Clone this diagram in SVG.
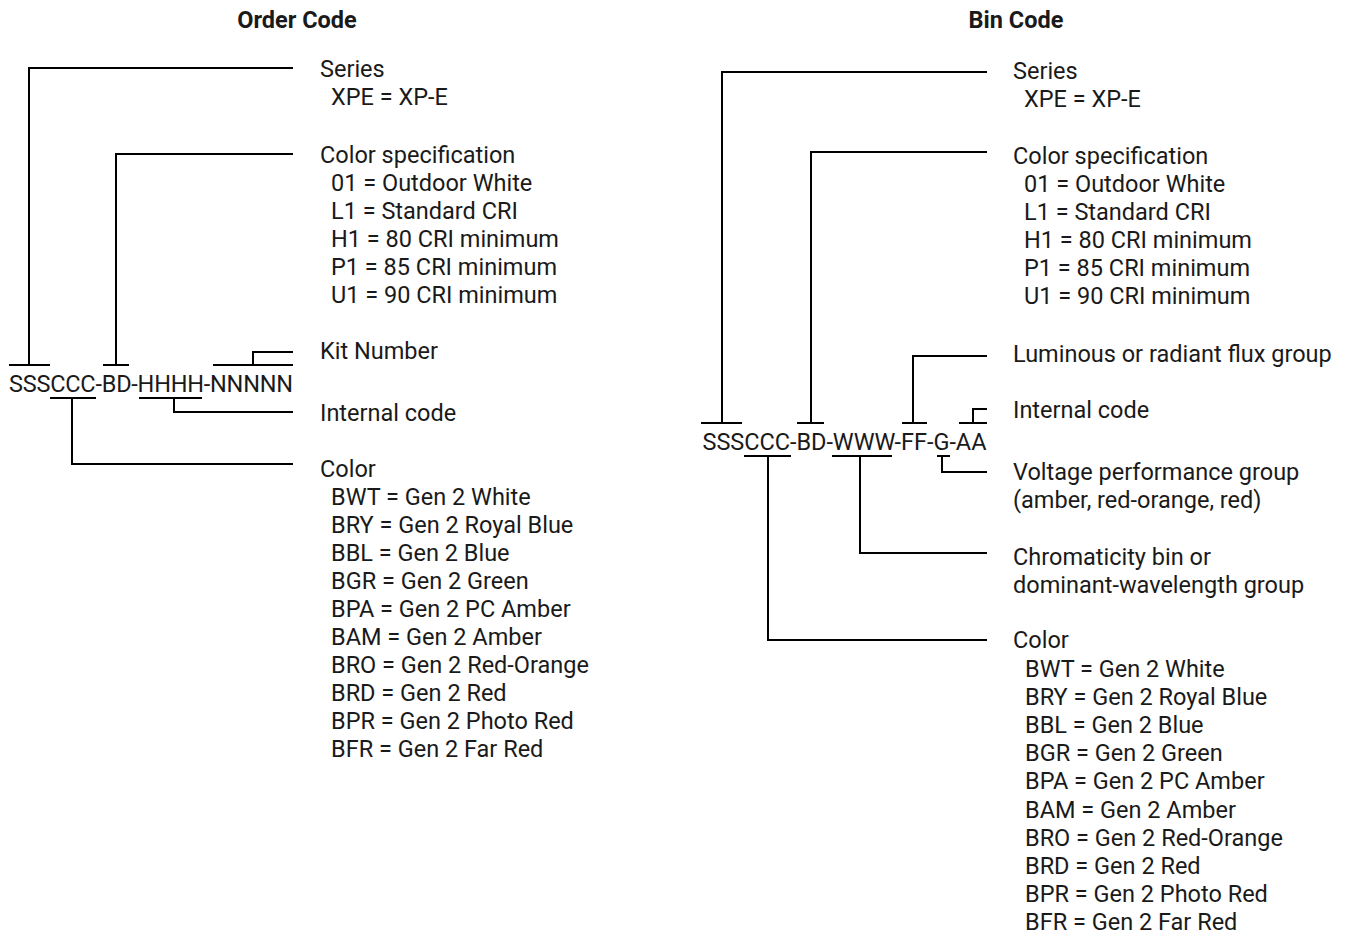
<svg xmlns="http://www.w3.org/2000/svg" width="1347" height="934" viewBox="0 0 1347 934">
<style>
text{font-family:Roboto,"Liberation Sans",Arial,sans-serif;font-size:23.5px;fill:#1a1a1a}
.title{font-weight:bold;font-size:23.5px;text-anchor:middle}
.ln{fill:none;stroke:#000;stroke-width:2}
</style>
<rect width="1347" height="934" fill="#fff"/>
<g id="titles">
<text class="title" x="297" y="28">Order Code</text>
<text class="title" x="1016" y="28">Bin Code</text>
</g>
<g id="order-code"><text x="9" y="391.7" textLength="284" lengthAdjust="spacing">SSSCCC-BD-HHHH-NNNNN</text></g>
<g id="bin-code"><text x="702.5" y="450" textLength="284" lengthAdjust="spacing">SSSCCC-BD-WWW-FF-G-AA</text></g>
<g id="connectors" class="ln">
<path class="ln" d="M9,365H50M29,365V68H293"/>
<path class="ln" d="M103,365H129M116,365V154H293"/>
<path class="ln" d="M213,365H293M253,365V352H293"/>
<path class="ln" d="M50,398H96M72,398V464H293"/>
<path class="ln" d="M139,398H202M174,398V412H293"/>
<path class="ln" d="M701,423H742M722,423V72H987"/>
<path class="ln" d="M797,423H824M811,423V152H987"/>
<path class="ln" d="M902,423H927M913,423V356H987"/>
<path class="ln" d="M959,423H987M973,423V409H987"/>
<path class="ln" d="M744,456H791M768,456V640H987"/>
<path class="ln" d="M832,456H892M860,456V553H987"/>
<path class="ln" d="M937,456H950M942,456V472H987"/>
</g>
<g id="order-series"><text x="320" y="77.3">Series</text><text x="331" y="105.3">XPE = XP-E</text></g>
<g id="order-colorspec">
<text x="320" y="162.5">Color specification</text>
<text x="331" y="190.5">01 = Outdoor White</text>
<text x="331" y="218.5">L1 = Standard CRI</text>
<text x="331" y="246.5">H1 = 80 CRI minimum</text>
<text x="331" y="274.5">P1 = 85 CRI minimum</text>
<text x="331" y="302.5">U1 = 90 CRI minimum</text>
</g>
<g id="order-kit"><text x="320" y="359.3">Kit Number</text></g>
<g id="order-internal"><text x="320" y="421">Internal code</text></g>
<g id="order-color">
<text x="320" y="476.7">Color</text>
<text x="331" y="505">BWT = Gen 2 White</text>
<text x="331" y="533">BRY = Gen 2 Royal Blue</text>
<text x="331" y="561">BBL = Gen 2 Blue</text>
<text x="331" y="589">BGR = Gen 2 Green</text>
<text x="331" y="617">BPA = Gen 2 PC Amber</text>
<text x="331" y="645">BAM = Gen 2 Amber</text>
<text x="331" y="673">BRO = Gen 2 Red-Orange</text>
<text x="331" y="701">BRD = Gen 2 Red</text>
<text x="331" y="729">BPR = Gen 2 Photo Red</text>
<text x="331" y="757">BFR = Gen 2 Far Red</text>
</g>
<g id="bin-series"><text x="1013" y="79">Series</text><text x="1024" y="107">XPE = XP-E</text></g>
<g id="bin-colorspec">
<text x="1013" y="164">Color specification</text>
<text x="1024" y="192">01 = Outdoor White</text>
<text x="1024" y="220">L1 = Standard CRI</text>
<text x="1024" y="248">H1 = 80 CRI minimum</text>
<text x="1024" y="276">P1 = 85 CRI minimum</text>
<text x="1024" y="304">U1 = 90 CRI minimum</text>
</g>
<g id="bin-flux"><text x="1013" y="361.7">Luminous or radiant flux group</text></g>
<g id="bin-internal"><text x="1013" y="418.3">Internal code</text></g>
<g id="bin-voltage"><text x="1013" y="480">Voltage performance group</text><text x="1013" y="508">(amber, red-orange, red)</text></g>
<g id="bin-chroma"><text x="1013" y="565">Chromaticity bin or</text><text x="1013" y="593">dominant-wavelength group</text></g>
<g id="bin-color">
<text x="1013" y="648.3">Color</text>
<text x="1025" y="676.5">BWT = Gen 2 White</text>
<text x="1025" y="704.7">BRY = Gen 2 Royal Blue</text>
<text x="1025" y="732.9">BBL = Gen 2 Blue</text>
<text x="1025" y="761.1">BGR = Gen 2 Green</text>
<text x="1025" y="789.3">BPA = Gen 2 PC Amber</text>
<text x="1025" y="817.5">BAM = Gen 2 Amber</text>
<text x="1025" y="845.7">BRO = Gen 2 Red-Orange</text>
<text x="1025" y="873.9">BRD = Gen 2 Red</text>
<text x="1025" y="902.1">BPR = Gen 2 Photo Red</text>
<text x="1025" y="930.3">BFR = Gen 2 Far Red</text>
</g>
</svg>
